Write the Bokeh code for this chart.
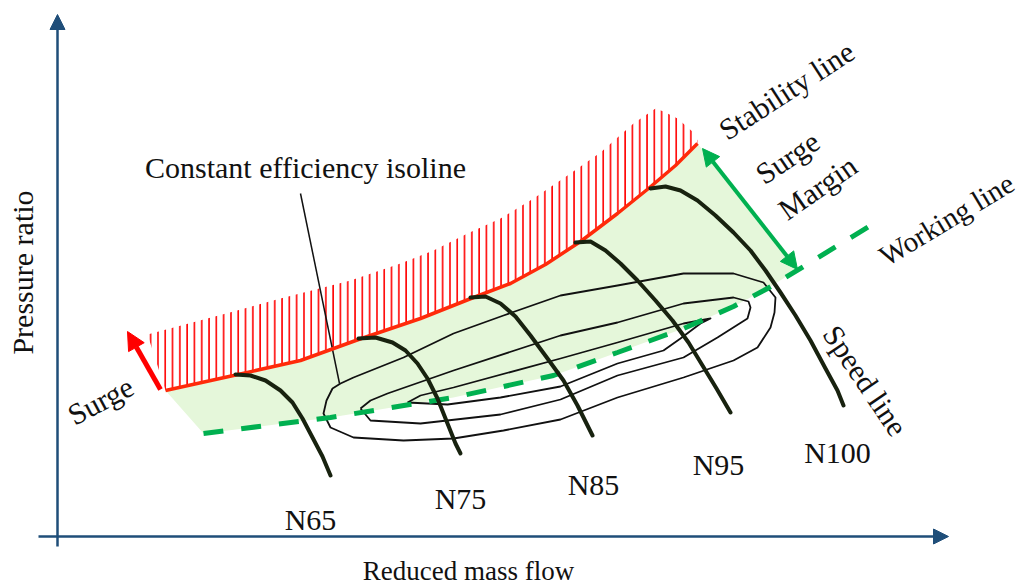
from bokeh.plotting import figure
from bokeh.models import Range1d, Arrow, NormalHead
from bokeh.core.properties import value
from bokeh.embed import file_html
from bokeh.resources import INLINE

# ---- schematic data (screen-like coordinates) ----
stability_x = [165, 233, 300, 358, 420, 473, 510, 545, 580, 617, 648, 675, 697]
stability_y = [390, 375, 360, 339, 318, 297, 283, 264, 241, 213, 188, 165, 143]

hatch_top_x = [147, 233, 280, 350, 400, 433, 467, 500, 533, 567, 600, 633, 655, 663, 677, 693, 697]
hatch_top_y = [334, 311, 298, 280, 263, 250, 233, 218, 198, 175, 152, 123, 108, 111, 118, 132, 140]

working_x = [203, 330, 453, 553, 617, 683, 733, 767, 803, 875]
working_y = [433, 417, 397, 375, 352, 328, 306, 288, 266, 222]

margin_end_x, margin_end_y = 797, 269

speed_names = ["N65", "N75", "N85", "N95", "N100"]
speed_x = [
    [235, 250, 265, 280, 292, 302, 312, 322, 330],
    [358, 375, 392, 405, 417, 427, 437, 447, 455, 460],
    [470, 485, 500, 515, 530, 547, 563, 577, 587, 592],
    [575, 590, 605, 620, 637, 655, 672, 688, 702, 716, 730],
    [650, 665, 680, 697, 715, 733, 750, 765, 780, 795, 810, 825, 837, 843],
]
speed_y = [
    [374, 375, 380, 390, 402, 418, 437, 456, 475],
    [338, 337, 342, 350, 363, 378, 398, 423, 443, 453],
    [297, 296, 303, 316, 335, 358, 380, 405, 425, 435],
    [242, 241, 250, 263, 280, 300, 320, 342, 365, 388, 412],
    [188, 186, 190, 200, 215, 232, 250, 270, 292, 315, 340, 368, 390, 405],
]
speed_label_x = [310, 460, 593, 718, 837]
speed_label_y = [519, 498, 484, 464, 452]

iso_outer_x = [340, 353, 403, 453, 503, 560, 617, 683, 733, 763, 775, 774, 770, 757, 733, 683, 617, 560, 503, 453, 403, 353, 330, 323, 326, 332, 340]
iso_outer_y = [383, 377, 357, 333, 315, 295, 285, 273, 273, 282, 297, 312, 327, 347, 360, 377, 397, 419, 430, 438, 440, 437, 427, 413, 400, 388, 383]
iso_mid_x = [360, 370, 387, 453, 560, 617, 683, 733, 748, 750, 747, 717, 683, 617, 560, 500, 420, 370, 360]
iso_mid_y = [408, 400, 393, 370, 335, 322, 303, 297, 301, 307, 318, 337, 357, 375, 399, 414, 423, 420, 408]
iso_in_x = [407, 420, 453, 560, 617, 683, 710, 700, 680, 663, 617, 560, 500, 447, 407]
iso_in_y = [402, 395, 387, 358, 342, 323, 318, 323, 338, 350, 363, 386, 397, 404, 402]

pointer_x = [300, 339]
pointer_y = [193, 383]

AXIS = "#1f4e79"
GREEN = "#00b050"
FONT = value("Liberation Serif")
FS = "30px"

p = figure(width=1025, height=588, output_backend="svg", toolbar_location=None,
           x_range=Range1d(0, 1025), y_range=Range1d(588, 0), min_border=0)
p.axis.visible = False
p.grid.visible = False
p.outline_line_color = None

# light green operating region: stability line -> margin arrow end -> working line back
wl = [(x, y) for x, y in zip(working_x, working_y) if x <= margin_end_x]
fill_x = stability_x + [margin_end_x] + [x for x, _ in wl[::-1]]
fill_y = stability_y + [margin_end_y] + [y for _, y in wl[::-1]]
p.patch(fill_x, fill_y, fill_color="#e5f7da", line_color=None)

# red hatching above stability line
hx = hatch_top_x + stability_x[::-1]
hy = hatch_top_y + stability_y[::-1]
p.patch(hx, hy, fill_color=None, line_color=None, hatch_pattern="|",
        hatch_color="#ff0000", hatch_scale=7.3, hatch_weight=1.6)

# efficiency isolines
for xs, ys in [(iso_outer_x, iso_outer_y), (iso_mid_x, iso_mid_y), (iso_in_x, iso_in_y)]:
    p.line(xs, ys, line_color="#111111", line_width=1.8, line_join="round")
p.line(pointer_x, pointer_y, line_color="#111111", line_width=1.5)

# working line
p.line(working_x, working_y, line_color=GREEN, line_width=5, line_dash="20 18")

# stability line
p.line(stability_x, stability_y, line_color="#ff2a0a", line_width=3.5)

# speed lines
for xs, ys in zip(speed_x, speed_y):
    p.line(xs, ys, line_color="#18220f", line_width=4, line_cap="round", line_join="round")

# arrows
p.add_layout(Arrow(end=NormalHead(size=15, fill_color=AXIS, line_color=AXIS),
                   x_start=57, y_start=546, x_end=57, y_end=14,
                   line_color=AXIS, line_width=2.5))
p.add_layout(Arrow(end=NormalHead(size=15, fill_color=AXIS, line_color=AXIS),
                   x_start=38, y_start=536, x_end=948, y_end=536,
                   line_color=AXIS, line_width=2.5))
p.add_layout(Arrow(end=NormalHead(size=18, fill_color="#ff0000", line_color="#ff0000"),
                   x_start=160, y_start=389, x_end=127, y_end=331,
                   line_color="#ff0000", line_width=5))
p.add_layout(Arrow(start=NormalHead(size=17, fill_color=GREEN, line_color=GREEN),
                   end=NormalHead(size=17, fill_color=GREEN, line_color=GREEN),
                   x_start=702, y_start=148, x_end=margin_end_x, y_end=margin_end_y,
                   line_color=GREEN, line_width=4))

# texts
p.text(x=speed_label_x, y=speed_label_y, text=speed_names, text_font=FONT,
       text_font_size=FS, text_align="center", text_baseline="middle", text_color="#111111")

labels = [
    ("Constant efficiency isoline", 305, 167, 0, "30px"),
    ("Stability line", 786, 90, 33, "30px"),
    ("Surge", 787, 157, 34, "30px"),
    ("Margin", 817, 187, 35, "30px"),
    ("Working line", 946, 219, 31, "29px"),
    ("Speed line", 865, 380, -56, "30px"),
    ("Surge", 100, 400, 28, "30px"),
    ("Reduced mass flow", 468, 570, 0, "27px"),
    ("Pressure ratio", 22, 272, 90, "30px"),
]
for t, x, y, a, fs in labels:
    p.text(x=[x], y=[y], text=[t], angle=a, angle_units="deg", text_font=FONT,
           text_font_size=fs, text_align="center", text_baseline="middle",
           text_color="#111111")

open("out.html", "w").write(file_html(p, INLINE))
